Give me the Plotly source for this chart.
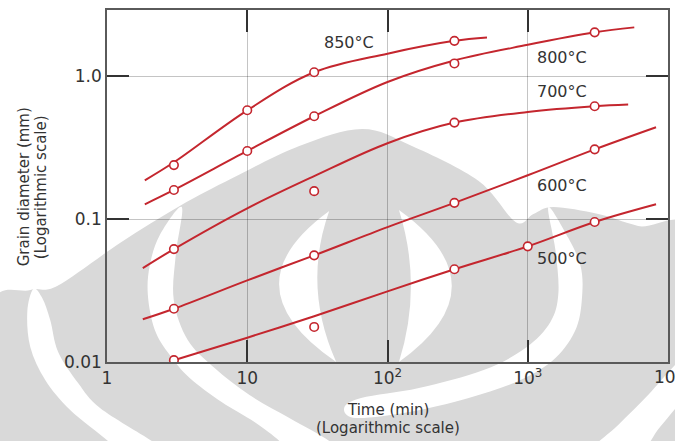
import math
import plotly.graph_objects as go

# ---- data: grain diameter (mm) vs. annealing time (min) ----
temps = ["850°C", "800°C", "700°C", "600°C", "500°C"]

# smooth curves through each isotherm
curve_t_850 = [1.86, 3, 10, 30, 100, 300, 512]
curve_d_850 = [0.187, 0.25, 0.578, 1.067, 1.44, 1.77, 1.87]
curve_t_800 = [1.86, 3, 10, 30, 100, 300, 1000, 3000, 5750]
curve_d_800 = [0.127, 0.16, 0.30, 0.525, 0.912, 1.29, 1.66, 2.03, 2.2]
curve_t_700 = [1.8, 3, 10, 30, 100, 300, 1000, 3000, 5200]
curve_d_700 = [0.0454, 0.0617, 0.119, 0.2, 0.34, 0.474, 0.563, 0.617, 0.634]
curve_t_600 = [1.8, 3, 10, 30, 100, 300, 1000, 3000, 8220]
curve_d_600 = [0.0199, 0.0236, 0.0373, 0.0558, 0.088, 0.13, 0.203, 0.308, 0.44]
curve_t_500 = [3, 10, 30, 100, 300, 1000, 3000, 8220]
curve_d_500 = [0.0103, 0.0148, 0.0209, 0.0312, 0.0446, 0.0645, 0.0955, 0.127]

# measured points
pts_t_850 = [3, 10, 30, 300]
pts_d_850 = [0.239, 0.578, 1.067, 1.77]
pts_t_800 = [3, 10, 30, 300, 3000]
pts_d_800 = [0.16, 0.30, 0.525, 1.23, 2.03]
pts_t_700 = [3, 30, 300, 3000]
pts_d_700 = [0.0617, 0.157, 0.474, 0.617]
pts_t_600 = [3, 30, 300, 3000]
pts_d_600 = [0.0236, 0.0558, 0.13, 0.308]
pts_t_500 = [3, 30, 300, 1000, 3000]
pts_d_500 = [0.0103, 0.0176, 0.0446, 0.0645, 0.0955]

# isotherm label anchors (time, diameter)
label_t = [53, 1766, 1766, 1766, 1766]
label_d = [1.73, 1.36, 0.785, 0.1726, 0.0532]

x_tickvals = [1, 10, 100, 1000, 10000]
x_ticktext = ["1", "10", "10<sup>2</sup>", "10<sup>3</sup>", "10<sup>4</sup>"]
y_tickvals = [0.01, 0.1, 1.0]
y_ticktext = ["0.01", "0.1", "1.0"]

curves_t = [curve_t_850, curve_t_800, curve_t_700, curve_t_600, curve_t_500]
curves_d = [curve_d_850, curve_d_800, curve_d_700, curve_d_600, curve_d_500]
points_t = [pts_t_850, pts_t_800, pts_t_700, pts_t_600, pts_t_500]
points_d = [pts_d_850, pts_d_800, pts_d_700, pts_d_600, pts_d_500]

# ---- styling / geometry ----
W, H = 675, 441
ML, MR, MT, MB = 107, 5, 10, 79
PW, PH = W - ML - MR, H - MT - MB
RED = "#c4262e"
TXT = "#333333"
FONT = "DejaVu Sans, Arial, sans-serif"
WM_GRAY = "#d9d9d9"


def px(x, y):
    """pixel position -> paper coordinates"""
    return ((x - ML) / PW, (H - MB - y) / PH)


def smooth_closed(points):
    """closed Catmull-Rom outline through pixel points, as an SVG path in paper units"""
    p = [px(x, y) for x, y in points]
    n = len(p)
    d = f"M {p[0][0]:.5f},{p[0][1]:.5f}"
    for i in range(n):
        p0, p1, p2, p3 = p[i - 1], p[i], p[(i + 1) % n], p[(i + 2) % n]
        c1 = (p1[0] + (p2[0] - p0[0]) / 6, p1[1] + (p2[1] - p0[1]) / 6)
        c2 = (p2[0] - (p3[0] - p1[0]) / 6, p2[1] - (p3[1] - p1[1]) / 6)
        d += f" C {c1[0]:.5f},{c1[1]:.5f} {c2[0]:.5f},{c2[1]:.5f} {p2[0]:.5f},{p2[1]:.5f}"
    return d + " Z"


def crescent(top, bottom, outer_cx, inner_cx):
    """lens-shaped band between two quadratic arcs sharing end points"""
    (x0, y0), (x1, y1) = top, bottom
    my = (y0 + y1) / 2
    a, b = px(x0, y0), px(x1, y1)
    co, ci = px(outer_cx, my), px(inner_cx, my)
    return (f"M {a[0]:.5f},{a[1]:.5f} Q {co[0]:.5f},{co[1]:.5f} {b[0]:.5f},{b[1]:.5f} "
            f"Q {ci[0]:.5f},{ci[1]:.5f} {a[0]:.5f},{a[1]:.5f} Z")


# background emblem: grey body with white crescent bands
body = [(-10, 308), (30, 290), (57, 286), (120, 243), (180, 206), (233, 178),
        (300, 146), (363, 129), (413, 146), (480, 181), (517, 222), (535, 214),
        (555, 207), (600, 214), (640, 226), (700, 240), (700, 460), (-10, 460)]
band_mid_left = [(182, 207), (160, 235), (150, 265), (148, 295), (155, 330), (170, 355),
                 (190, 378), (222, 402), (255, 422), (280, 441), (290, 455), (340, 455),
                 (330, 441), (290, 418), (250, 395), (215, 368), (188, 340), (174, 300),
                 (176, 255)]
band_mid_right = [(550, 207), (570, 238), (582, 265), (584, 293), (578, 328), (557, 358),
                  (522, 380), (470, 398), (410, 412), (357, 418), (345, 408), (362, 398),
                  (420, 388), (485, 370), (527, 348), (552, 322), (560, 293), (557, 250)]
band_out_left = [(33, 289), (27, 312), (30, 347), (45, 380), (70, 410), (108, 441),
                 (120, 455), (170, 455), (152, 441), (100, 408), (78, 383), (58, 352),
                 (50, 320), (42, 298)]
band_out_right = [(705, 342), (680, 362), (650, 395), (620, 425), (590, 455), (638, 455),
                  (662, 427), (688, 396), (705, 378)]

shapes = [
    dict(type="path", path=smooth_closed(body), fillcolor=WM_GRAY),
    dict(type="path", path=crescent((330, 211), (337, 362), 226, 303), fillcolor="white"),
    dict(type="path", path=crescent((400, 210), (400, 362), 506, 424), fillcolor="white"),
    dict(type="path", path=smooth_closed(band_mid_left), fillcolor="white"),
    dict(type="path", path=smooth_closed(band_mid_right), fillcolor="white"),
    dict(type="path", path=smooth_closed(band_out_left), fillcolor="white"),
    dict(type="path", path=smooth_closed(band_out_right), fillcolor="white"),
]
for s in shapes:
    s.update(xref="paper", yref="paper", layer="below", line=dict(width=0))

fig = go.Figure()

for name, ct, cd, pt, pd in zip(temps, curves_t, curves_d, points_t, points_d):
    fig.add_trace(go.Scatter(
        x=ct, y=cd, mode="lines", name=name, showlegend=False, hoverinfo="skip",
        line=dict(color=RED, width=2, shape="spline", smoothing=1.0)))
    fig.add_trace(go.Scatter(
        x=pt, y=pd, mode="markers", name=name, showlegend=False,
        marker=dict(symbol="circle", size=8.5, color="white",
                    line=dict(color=RED, width=1.6))))

annotations = []
for name, t, d in zip(temps, label_t, label_d):
    annotations.append(dict(x=math.log10(t), y=math.log10(d), xref="x", yref="y",
                            text=name, showarrow=False,
                            font=dict(family=FONT, size=16, color=TXT)))

# the last x tick label sits on the page edge; plotly would hide it, so draw it here
annotations.append(dict(x=math.log10(x_tickvals[-1]), y=px(0, 362)[1], xref="x", yref="paper",
                        text=x_ticktext[-1], showarrow=False, xanchor="center",
                        yanchor="top", yshift=-1,
                        font=dict(family=FONT, size=17, color=TXT)))

# axis titles (two lines each)
for text, (ax, ay) in [("Time (min)", (389, 410)), ("(Logarithmic scale)", (389, 428))]:
    x, y = px(ax, ay)
    annotations.append(dict(x=x, y=y, xref="paper", yref="paper", text=text,
                            showarrow=False, xanchor="center", yanchor="middle",
                            font=dict(family=FONT, size=15, color=TXT)))
for text, (ax, ay) in [("Grain diameter (mm)", (24, 187)), ("(Logarithmic scale)", (41, 187))]:
    x, y = px(ax, ay)
    annotations.append(dict(x=x, y=y, xref="paper", yref="paper", text=text,
                            showarrow=False, textangle=-90, xanchor="center",
                            yanchor="middle", font=dict(family=FONT, size=15, color=TXT)))

axis_common = dict(
    type="log", showgrid=True, gridcolor="rgba(0,0,0,0.23)", gridwidth=1,
    showline=True, linecolor="#5a5a5a", linewidth=1.6, mirror="ticks",
    ticks="inside", ticklen=22, tickwidth=2, tickcolor="#333333",
    zeroline=False, tickfont=dict(family=FONT, size=17, color=TXT),
)

fig.update_layout(
    width=W, height=H,
    margin=dict(l=ML, r=MR, t=MT, b=MB, pad=0),
    paper_bgcolor="white", plot_bgcolor="white",
    shapes=shapes, annotations=annotations, showlegend=False,
    xaxis=dict(axis_common, range=[0, 4], tickvals=x_tickvals, ticktext=x_ticktext),
    yaxis=dict(axis_common, range=[-2, 0.464], tickvals=y_tickvals, ticktext=y_ticktext),
)

fig.write_html("out.html")
